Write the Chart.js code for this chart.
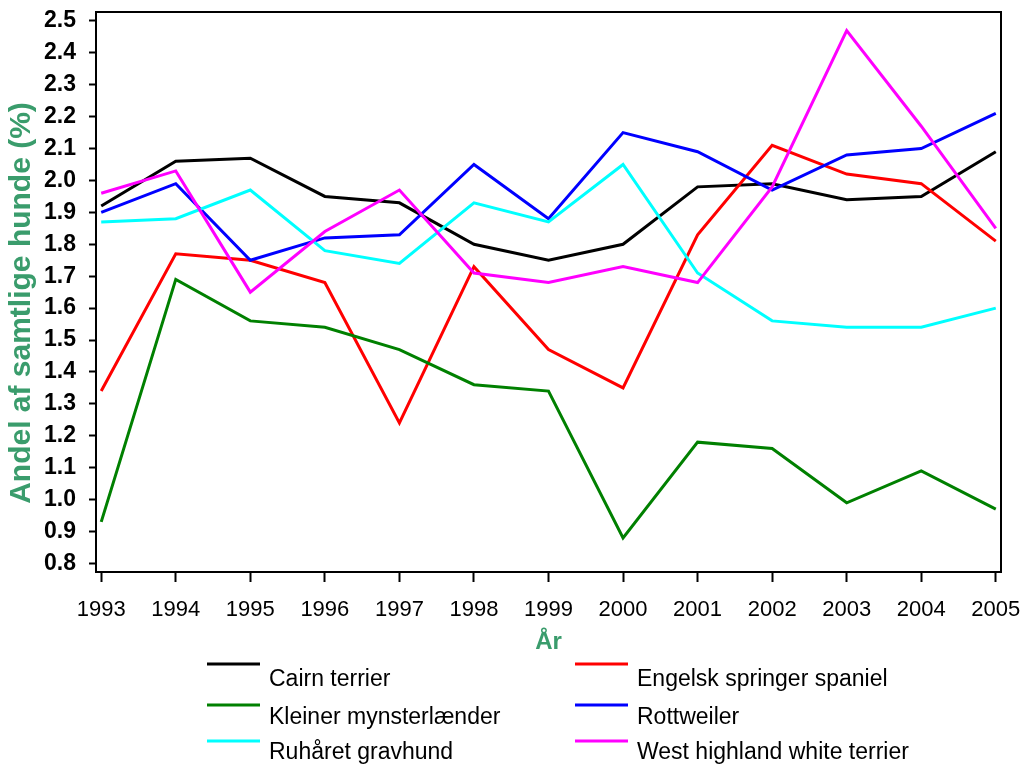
<!DOCTYPE html>
<html>
<head>
<meta charset="utf-8">
<script src="https://cdn.jsdelivr.net/npm/chart.js@4.4.0/dist/chart.umd.min.js"></script>
<style>
  html, body { margin: 0; padding: 0; background: #fff; }
  #chart { display: block; }
</style>
</head>
<body>
<canvas id="chart" width="1029" height="769"></canvas>
<script>
// Data
const years = [1993, 1994, 1995, 1996, 1997, 1998, 1999, 2000, 2001, 2002, 2003, 2004, 2005];
const yTicks = [0.8, 0.9, 1.0, 1.1, 1.2, 1.3, 1.4, 1.5, 1.6, 1.7, 1.8, 1.9, 2.0, 2.1, 2.2, 2.3, 2.4, 2.5];

const cairn      = [1.92, 2.06, 2.07, 1.95, 1.93, 1.80, 1.75, 1.80, 1.98, 1.99, 1.94, 1.95, 2.09];
const engelsk    = [1.34, 1.77, 1.75, 1.68, 1.24, 1.73, 1.47, 1.35, 1.83, 2.11, 2.02, 1.99, 1.81];
const kleiner    = [0.93, 1.69, 1.56, 1.54, 1.47, 1.36, 1.34, 0.88, 1.18, 1.16, 0.99, 1.09, 0.97];
const rottweiler = [1.90, 1.99, 1.75, 1.82, 1.83, 2.05, 1.88, 2.15, 2.09, 1.97, 2.08, 2.10, 2.21];
const ruhaaret   = [1.87, 1.88, 1.97, 1.78, 1.74, 1.93, 1.87, 2.05, 1.71, 1.56, 1.54, 1.54, 1.60];
const westie     = [1.96, 2.03, 1.65, 1.84, 1.97, 1.71, 1.68, 1.73, 1.68, 1.98, 2.47, 2.17, 1.85];

const seriesNames = ['Cairn terrier', 'Engelsk springer spaniel', 'Kleiner mynsterlænder',
                     'Rottweiler', 'Ruhåret gravhund', 'West highland white terrier'];
const seriesValues = [cairn, engelsk, kleiner, rottweiler, ruhaaret, westie];
const seriesColors = ['#000000', '#ff0000', '#008000', '#0000ff', '#00ffff', '#ff00ff'];

const FONT = "'Liberation Sans', Arial, sans-serif";
const GREEN = '#3a9c6c';
const Y_TITLE = 'Andel af samtlige hunde (%)';

// Box round the plot area, plus the y axis title (sits a bit below centre)
const frame = {
  id: 'frame',
  afterDatasetsDraw(chart) {
    const a = chart.chartArea;
    const ctx = chart.ctx;
    ctx.save();
    ctx.strokeStyle = '#000';
    ctx.lineWidth = 2;
    ctx.strokeRect(a.left, a.top, a.right - a.left, a.bottom - a.top);
    ctx.restore();
  },
  afterDraw(chart) {
    const ctx = chart.ctx;
    ctx.save();
    ctx.translate(22, 303);
    ctx.rotate(-Math.PI / 2);
    ctx.font = 'bold 30px ' + FONT;
    ctx.fillStyle = GREEN;
    ctx.textAlign = 'center';
    ctx.textBaseline = 'middle';
    ctx.fillText(Y_TITLE, 0, 0);
    ctx.restore();
  }
};

// Two column legend, line sample above-left of each label
const legendBelow = {
  id: 'legendBelow',
  afterDraw(chart) {
    const ctx = chart.ctx;
    const colLine = [207, 575];
    const colText = [269, 637];
    const lineY = [664, 705, 741];
    const textY = [680, 718, 753];
    ctx.save();
    ctx.font = '23px ' + FONT;
    ctx.textBaseline = 'middle';
    ctx.textAlign = 'left';
    chart.data.datasets.forEach((ds, i) => {
      const col = i % 2;
      const row = Math.floor(i / 2);
      ctx.strokeStyle = ds.borderColor;
      ctx.lineWidth = 3;
      ctx.beginPath();
      ctx.moveTo(colLine[col], lineY[row]);
      ctx.lineTo(colLine[col] + 53, lineY[row]);
      ctx.stroke();
      ctx.fillStyle = '#000';
      ctx.fillText(ds.label, colText[col], textY[row]);
    });
    ctx.restore();
  }
};

const datasets = seriesNames.map((name, i) => ({
  label: name,
  data: years.map((yr, j) => ({ x: yr, y: seriesValues[i][j] })),
  borderColor: seriesColors[i],
  backgroundColor: seriesColors[i],
  borderWidth: 3,
  pointRadius: 0,
  tension: 0,
  fill: false,
  order: seriesNames.length - i
}));

new Chart(document.getElementById('chart'), {
  type: 'line',
  data: { datasets: datasets },
  options: {
    responsive: false,
    animation: false,
    layout: { padding: { left: 0, right: 28, top: 12, bottom: 112 } },
    plugins: {
      legend: { display: false },
      tooltip: { enabled: false }
    },
    scales: {
      x: {
        type: 'linear',
        min: 1992.93,
        max: 2005.07,
        afterBuildTicks: scale => { scale.ticks = years.map(v => ({ value: v })); },
        afterFit: scale => {
          scale.height = 85;
          scale.paddingLeft = 0;
          scale.paddingRight = 0;
        },
        grid: { drawOnChartArea: false, tickLength: 10, tickWidth: 2, tickColor: '#000' },
        border: { display: true, color: '#000', width: 2 },
        ticks: {
          color: '#000',
          padding: 15,
          maxRotation: 0,
          autoSkip: false,
          font: { family: FONT, size: 22 },
          callback: v => String(v)
        },
        title: {
          display: true,
          text: 'År',
          color: GREEN,
          padding: 0,
          font: { family: FONT, size: 24, weight: 'bold' }
        }
      },
      y: {
        min: 0.773,
        max: 2.528,
        afterBuildTicks: scale => { scale.ticks = yTicks.map(v => ({ value: v })); },
        afterFit: scale => {
          scale.width = 96;
          scale.paddingTop = 0;
          scale.paddingBottom = 0;
        },
        grid: { drawOnChartArea: false, tickLength: 7, tickWidth: 2, tickColor: '#000' },
        border: { display: true, color: '#000', width: 2 },
        ticks: {
          color: '#000',
          padding: 13,
          autoSkip: false,
          font: { family: FONT, size: 23, weight: 'bold' },
          callback: v => v.toFixed(1)
        },
        title: { display: false }
      }
    }
  },
  plugins: [frame, legendBelow]
});
</script>
</body>
</html>
